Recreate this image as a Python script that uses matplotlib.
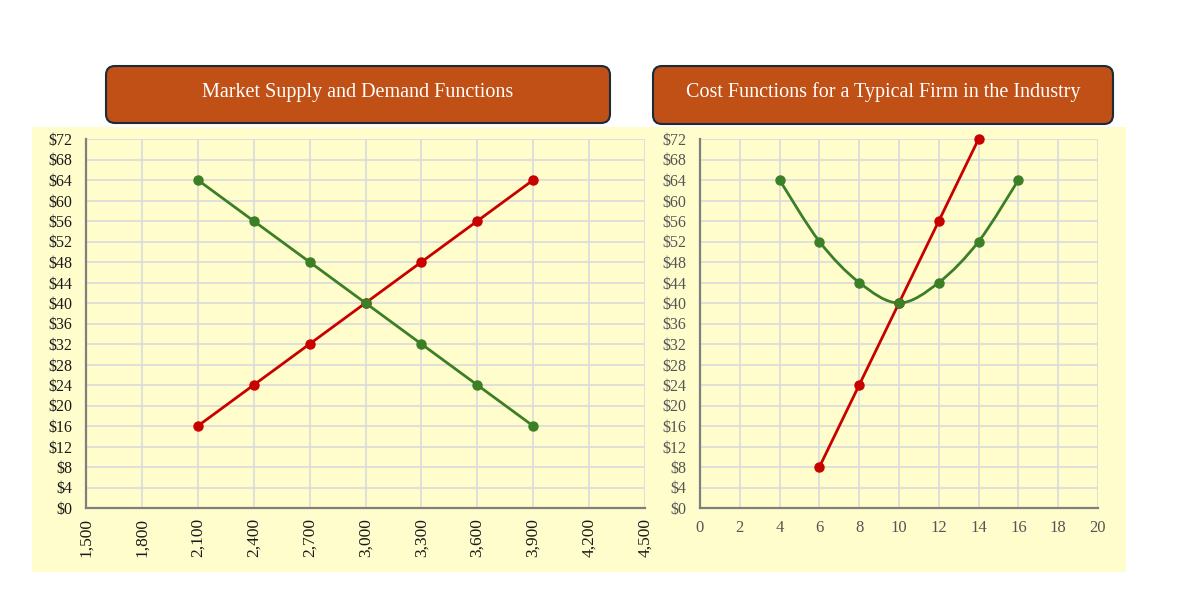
import numpy as np
import matplotlib
matplotlib.use("Agg")
from matplotlib import pyplot as plt
from matplotlib.patches import FancyBboxPatch, Rectangle, PathPatch
from matplotlib.path import Path
from matplotlib.transforms import IdentityTransform
from matplotlib.ticker import FuncFormatter

# market data
quantity = [2100, 2400, 2700, 3000, 3300, 3600, 3900]
supply_price = [16, 24, 32, 40, 48, 56, 64]
demand_price = [64, 56, 48, 40, 32, 24, 16]

# firm cost data
mc_q = [6, 8, 10, 12, 14]
mc_cost = [8, 24, 40, 56, 72]
atc_q = [4, 6, 8, 10, 12, 14, 16]
atc_cost = [64, 52, 44, 40, 44, 52, 64]

left_title = "Market Supply and Demand Functions"
right_title = "Cost Functions for a Typical Firm in the Industry"

W, H = 1200, 616
GREEN = "#3B7F27"
RED = "#C80000"
PANEL = "#FFFDCC"
BOX = "#C05016"
GRID = "#D8D8DC"

plt.rcParams['font.family'] = ['Liberation Serif', 'DejaVu Serif']


def frac(x0, y0, x1, y1):
    # pixel box (top-left origin) -> figure fraction rect
    return [x0 / W, (H - y1) / H, (x1 - x0) / W, (y1 - y0) / H]


def smooth_path(xs, ys):
    # bezier like Excel's smoothed line
    p = np.column_stack([xs, ys]).astype(float)
    verts = [p[0]]
    codes = [Path.MOVETO]
    for i in range(len(p) - 1):
        p0 = p[i - 1] if i > 0 else p[i]
        p3 = p[i + 2] if i + 2 < len(p) else p[i + 1]
        c1 = p[i] + (p[i + 1] - p0) / 6
        c2 = p[i + 1] - (p3 - p[i]) / 6
        verts += [c1, c2, p[i + 1]]
        codes += [Path.CURVE4] * 3
    return Path(verts, codes)


def draw_series(ax, xs, ys, color):
    ax.add_patch(PathPatch(smooth_path(xs, ys), fill=False, edgecolor=color, lw=2, zorder=3))
    ax.plot(xs, ys, 'o', color=color, ms=6.5, zorder=4, clip_on=False)


def style_axes(ax, label_color):
    ax.set_facecolor(PANEL)
    ax.set_ylim(0, 72)
    ax.set_yticks(np.arange(0, 73, 4))
    ax.yaxis.set_major_formatter(FuncFormatter(lambda v, p: "$%d" % v))
    ax.grid(True, color=GRID, lw=1.1)
    ax.set_axisbelow(True)
    for s in ['top', 'right']:
        ax.spines[s].set_visible(False)
    for s in ['left', 'bottom']:
        ax.spines[s].set_color("#7F7F7F")
        ax.spines[s].set_linewidth(1.6)
    ax.tick_params(length=0, labelsize=11.5, colors=label_color)
    ax.tick_params(axis='y', pad=10)


fig = plt.figure(figsize=(W / 100, H / 100), dpi=100)

# yellow background behind both charts
fig.patches.append(Rectangle((32 / W, (H - 572) / H), (1126 - 32) / W, (572 - 127) / H,
                             transform=fig.transFigure, facecolor=PANEL, edgecolor='none', zorder=-5))

# title boxes
for (x0, y0, x1, y1), txt in [((106, 66, 610, 123), left_title), ((653, 66, 1113, 124), right_title)]:
    box = FancyBboxPatch((x0, H - y1), x1 - x0, y1 - y0, boxstyle="round,pad=0,rounding_size=9",
                         transform=IdentityTransform(), facecolor=BOX, edgecolor="#1C2B3A", lw=1.5,
                         zorder=-4)
    fig.patches.append(box)
    fig.text((x0 + x1) / 2 / W, (H - 90) / H, txt, color='white', fontsize=14.5,
             ha='center', va='center_baseline')

# left chart
ax1 = fig.add_axes(frac(86, 139, 645, 508))
style_axes(ax1, "#1A1A1A")
ax1.set_xlim(1500, 4500)
ax1.set_xticks(np.arange(1500, 4501, 300))
ax1.xaxis.set_major_formatter(FuncFormatter(lambda v, p: "{:,}".format(int(v))))
ax1.tick_params(axis='x', labelrotation=90, pad=7, labelsize=12.5)
draw_series(ax1, quantity, supply_price, RED)
draw_series(ax1, quantity, demand_price, GREEN)

# right chart
ax2 = fig.add_axes(frac(700, 139, 1098, 508))
style_axes(ax2, "#555555")
ax2.set_xlim(0, 20)
ax2.set_xticks(np.arange(0, 21, 2))
ax2.tick_params(axis='x', pad=9, labelsize=12)
draw_series(ax2, mc_q, mc_cost, RED)
draw_series(ax2, atc_q, atc_cost, GREEN)

fig.savefig("out.png", dpi=100, facecolor='white')
